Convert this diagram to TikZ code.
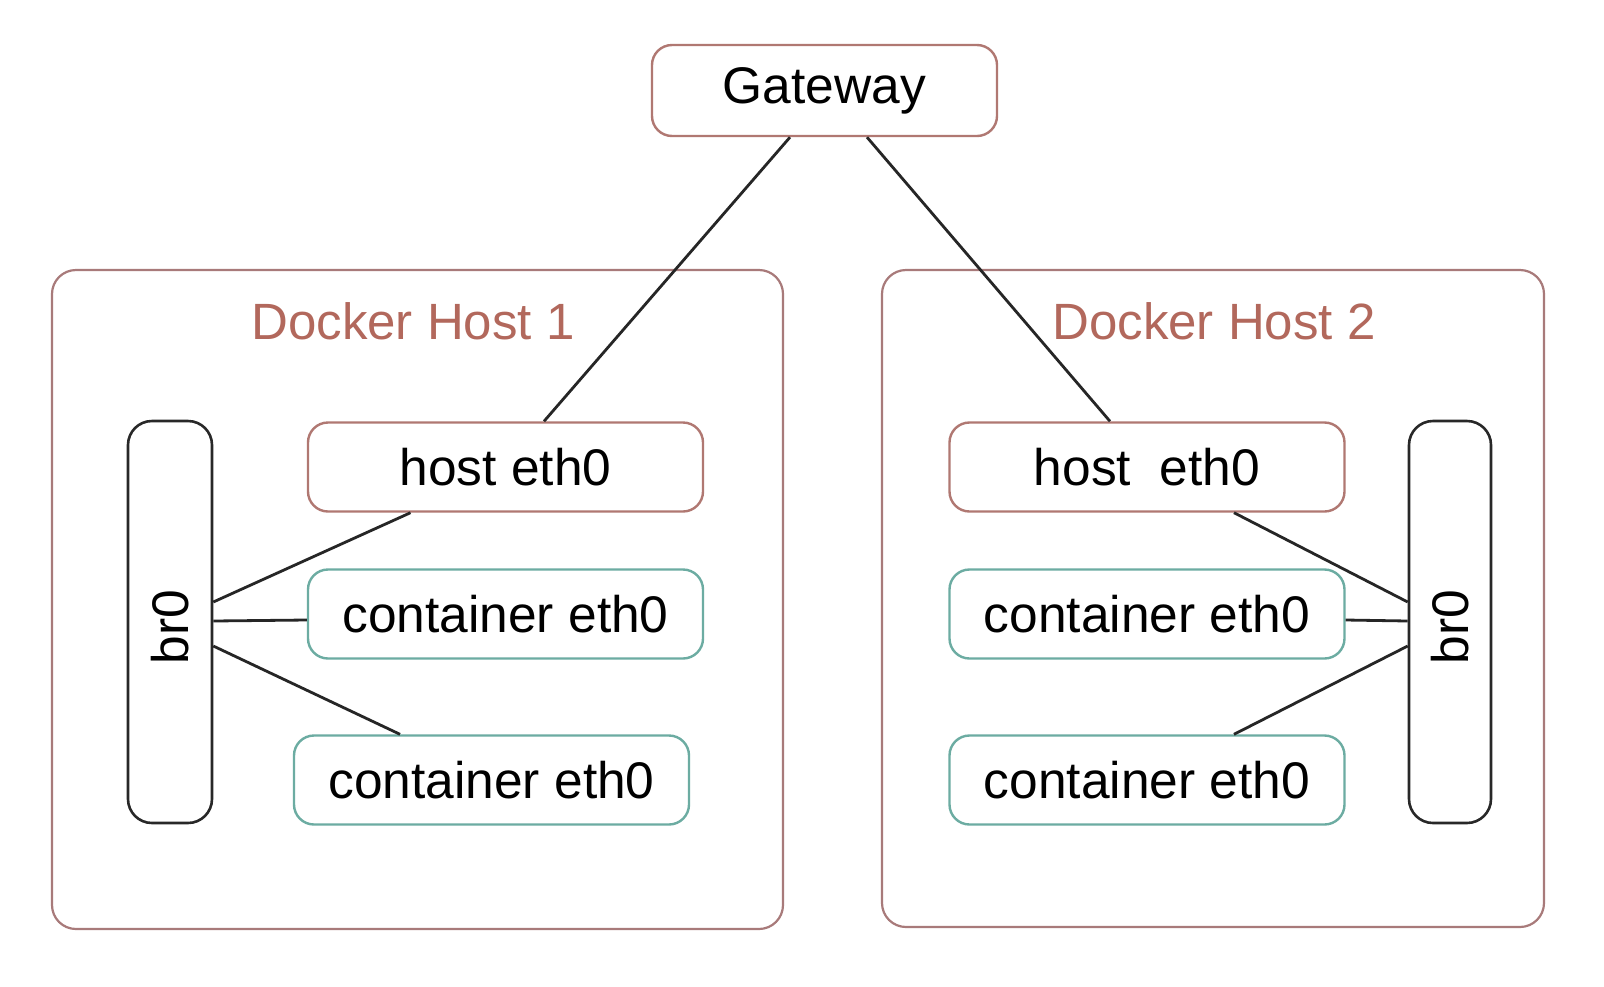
\documentclass[tikz,border=0pt]{standalone}
\usepackage{fontspec}
\setmainfont{Liberation Sans}
\usetikzlibrary{calc}
\definecolor{hostred}{RGB}{176,120,114}
\definecolor{framered}{RGB}{168,122,122}
\definecolor{labelred}{RGB}{178,104,92}
\definecolor{teal}{RGB}{108,172,162}
\definecolor{bardark}{RGB}{40,40,40}
\newcommand{\brlabel}{\raisebox{-42pt}[0pt][0pt]{\rotatebox{90}{br0}}}
\begin{document}
\begin{tikzpicture}[x=1pt,y=-1pt,
  basebox/.style={draw, fill=white, rounded corners=20pt, line width=2.4pt, inner sep=0pt,
    font=\fontsize{51.5}{60}\selectfont, text=black},
  gwbox/.style={basebox, draw=hostred, minimum width=345pt, minimum height=91pt},
  hostbox/.style={basebox, draw=hostred, minimum width=395pt, minimum height=89pt},
  contbox/.style={basebox, draw=teal, minimum width=395pt, minimum height=89pt},
  barbox/.style={basebox, draw=bardark, line width=2.6pt, rounded corners=24pt, minimum width=84pt, minimum height=402pt},
  frame/.style={draw=framered, fill=white, rounded corners=24pt, line width=2.2pt, inner sep=0pt},
  hostlabel/.style={font=\fontsize{51}{60}\selectfont, text=labelred, inner sep=0pt},
  link/.style={draw=black!85, line width=2.8pt}]
\useasboundingbox (0,0) rectangle (1604,986);
\fill[white] (0,0) rectangle (1604,986);
% frames
\node[frame, minimum width=731pt, minimum height=659pt] (H1) at (417.5,599.5) {};
\node[frame, minimum width=662pt, minimum height=657pt] (H2) at (1213,598.5) {};
\node[hostlabel] (L1) at (413,321) {Docker Host 1};
\node[hostlabel] (L2) at (1214,321) {Docker Host 2};
% gateway
\node[gwbox] (gw) at (824.5,90.5) {Gateway};
% left host
\node[barbox] (brL) at (170,622) {\brlabel};
\node[hostbox] (hL) at (505.5,467) {host eth0};
\node[contbox] (cL1) at (505.5,614) {container eth0};
\node[contbox] (cL2) at (491.5,780) {container eth0};
% right host
\node[barbox, minimum width=82pt] (brR) at (1450,622) {\brlabel};
\node[hostbox] (hR) at (1147,467) {host\ \ eth0};
\node[contbox] (cR1) at (1147,614) {container eth0};
\node[contbox] (cR2) at (1147,780) {container eth0};
% gateway links
\draw[link] ([xshift=-34.5pt]gw.south) -- ([xshift=38.5pt]hL.north);
\draw[link] ([xshift=42.5pt]gw.south) -- ([xshift=-37pt]hR.north);
% left links
\draw[link] ([yshift=20pt]brL.east) -- ([xshift=-95pt]hL.south);
\draw[link] ([yshift=1pt]brL.east) -- ([yshift=-6pt]cL1.west);
\draw[link] ([yshift=-24pt]brL.east) -- ([xshift=-91.5pt]cL2.north);
% right links
\draw[link] ([yshift=20pt]brR.west) -- ([xshift=87pt]hR.south);
\draw[link] ([yshift=1pt]brR.west) -- ([yshift=-6pt]cR1.east);
\draw[link] ([yshift=-24pt]brR.west) -- ([xshift=87pt]cR2.north);
\end{tikzpicture}
\end{document}
